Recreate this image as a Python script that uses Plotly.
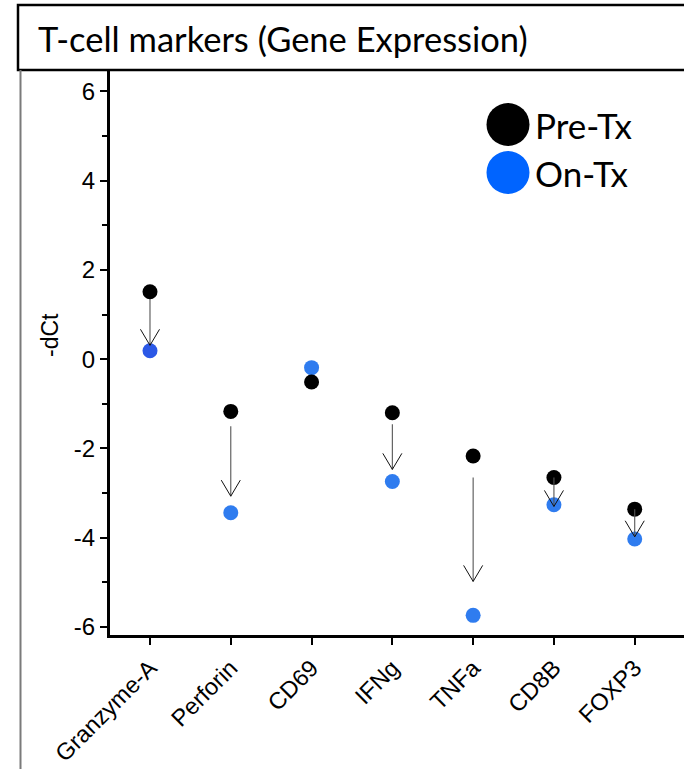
import plotly.graph_objects as go

# ---- data ----
genes = ["Granzyme-A", "Perforin", "CD69", "IFNg", "TNFa", "CD8B", "FOXP3"]
pre_tx = [1.51, -1.17, -0.51, -1.20, -2.17, -2.65, -3.36]
on_tx = [0.19, -3.44, -0.19, -2.74, -5.74, -3.26, -4.03]
# arrow stems (start just below Pre-Tx, tip just above On-Tx); None = no arrow
arrow_start = [1.35, -1.50, None, -1.46, -2.65, -2.65, -3.36]
arrow_tip = [0.31, -3.07, None, -2.47, -4.98, -3.30, -3.98]
y_ticks = [-6, -4, -2, 0, 2, 4, 6]
y_tick_labels = ["-6", "-4", "-2", "0", "2", "4", "6"]

W, H = 684, 769
L, R, T, B = 110, 0, 70, 134
PW, PH = W - L - R, H - T - B


def px(x):
    return (x - L) / PW


def py(y):
    return (H - B - y) / PH


xs = list(range(len(genes)))
on_colors = ["#2b58e6"] + ["#2f7cef"] * (len(genes) - 1)

fig = go.Figure()
fig.add_trace(go.Scatter(x=xs, y=on_tx, mode="markers", name="On-Tx",
                         marker=dict(size=15, color=on_colors, line=dict(width=0)),
                         hoverinfo="skip"))
fig.add_trace(go.Scatter(x=xs, y=pre_tx, mode="markers", name="Pre-Tx",
                         marker=dict(size=15, color="black", line=dict(width=0)),
                         hoverinfo="skip"))

# arrows
hdx, hdy = 0.118, 0.36
sx, sy, hx, hy = [], [], [], []
for i, (a, b) in enumerate(zip(arrow_start, arrow_tip)):
    if a is None:
        continue
    sx += [i, i, None]
    sy += [a, b, None]
    hx += [i - hdx, i, i + hdx, None]
    hy += [b + hdy, b, b + hdy, None]
fig.add_trace(go.Scatter(x=sx, y=sy, mode="lines", line=dict(color="#555555", width=1.1),
                         hoverinfo="skip", showlegend=False))
fig.add_trace(go.Scatter(x=hx, y=hy, mode="lines", line=dict(color="#111111", width=1),
                         hoverinfo="skip", showlegend=False))

y_font = dict(family="Liberation Sans, Arial, sans-serif", size=24, color="black")
x_font = dict(family="Liberation Sans, Arial, sans-serif", size=23.5, color="black")
title_font = "Lato, Calibri, sans-serif"

fig.update_layout(
    width=W, height=H,
    margin=dict(l=L, r=R, t=T, b=B, pad=0),
    paper_bgcolor="white", plot_bgcolor="white",
    showlegend=False,
    xaxis=dict(range=[-0.495, 6.61], tickvals=xs, ticktext=genes, tickangle=-45,
               automargin=False,
               showline=True, linecolor="black", linewidth=3, ticks="outside",
               ticklen=7, tickwidth=2, tickcolor="black", showgrid=False, zeroline=False,
               tickfont=x_font),
    yaxis=dict(range=[-6.18, 6.48], tickvals=y_ticks, ticktext=y_tick_labels,
               automargin=False,
               showline=True, linecolor="black",
               linewidth=3, ticks="outside", ticklen=7, tickwidth=2, tickcolor="black",
               showgrid=False, zeroline=False, tickfont=y_font,
               minor=dict(tickvals=[-5, -3, -1, 1, 3, 5], ticks="outside", ticklen=5,
                          tickwidth=2, tickcolor="black")),
)

shapes = [
    dict(type="rect", xref="paper", yref="paper", x0=px(18), x1=px(700), y0=py(70), y1=py(5),
         line=dict(color="black", width=2.5), fillcolor="rgba(0,0,0,0)", layer="above"),
    dict(type="line", xref="paper", yref="paper", x0=px(20.5), x1=px(20.5), y0=py(70), y1=py(775),
         line=dict(color="#7a7a7a", width=2)),
    dict(type="circle", xref="paper", yref="paper", x0=px(486.5), x1=px(529.5), y0=py(146), y1=py(103),
         fillcolor="black", line=dict(width=0)),
    dict(type="circle", xref="paper", yref="paper", x0=px(486.5), x1=px(529.5), y0=py(194), y1=py(151),
         fillcolor="#0064ff", line=dict(width=0)),
]
fig.update_layout(shapes=shapes)

annotations = [
    dict(text="T-cell markers (Gene Expression)", xref="paper", yref="paper", x=px(36), y=py(39),
         xanchor="left", yanchor="middle", showarrow=False,
         font=dict(family=title_font, size=34.5, color="black")),
    dict(text="Pre-Tx", xref="paper", yref="paper", x=px(533), y=py(125),
         xanchor="left", yanchor="middle", showarrow=False,
         font=dict(family=title_font, size=35, color="black")),
    dict(text="On-Tx", xref="paper", yref="paper", x=px(533), y=py(173),
         xanchor="left", yanchor="middle", showarrow=False,
         font=dict(family=title_font, size=35, color="black")),
    dict(text="-dCt", xref="paper", yref="paper", x=px(50), y=py(335), textangle=-90,
         xanchor="center", yanchor="middle", showarrow=False,
         font=dict(family="Liberation Sans, Arial, sans-serif", size=23, color="black")),
]
fig.update_layout(annotations=annotations)

fig.write_html("out.html")
